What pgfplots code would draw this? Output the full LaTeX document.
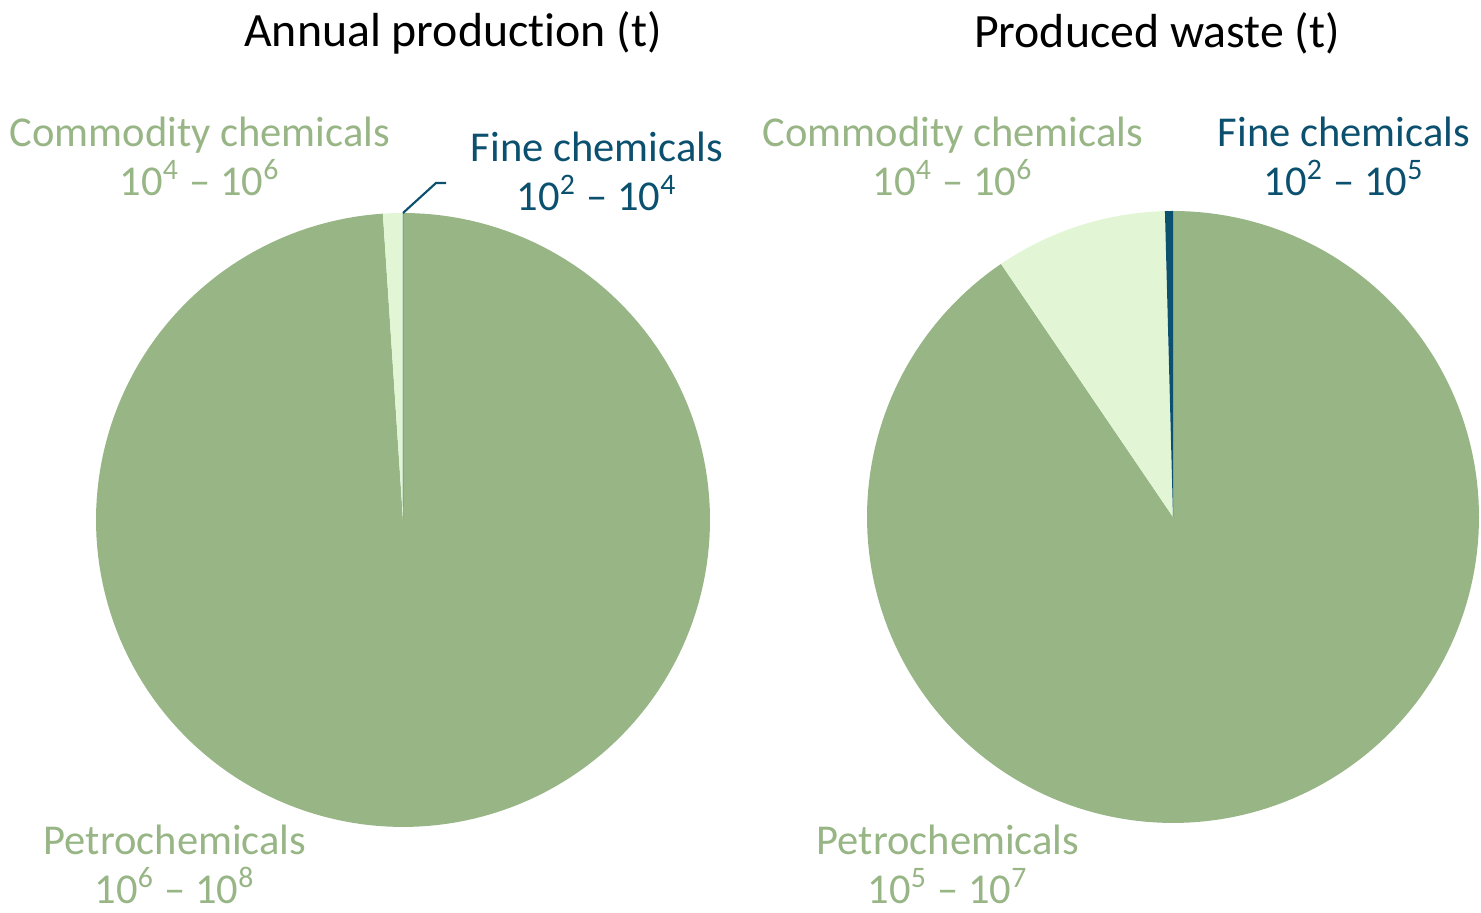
\documentclass[border=0pt]{standalone}
\usepackage{pgfplots}
\pgfplotsset{compat=1.18}
\usepackage{fontspec}
\setmainfont{Carlito}[Ligatures=NoCommon]
\definecolor{petro}{HTML}{97B585}
\definecolor{commod}{HTML}{E2F6D6}
\definecolor{fine}{HTML}{0B506F}
% shares in percent
\def\LFine{0.005}\def\LComm{1.04}\def\LPetro{98.955}
\def\RFine{0.42}\def\RComm{9.08}\def\RPetro{90.50}
\pgfmathsetmacro\La{90+3.6*\LFine}
\pgfmathsetmacro\Lb{\La+3.6*\LComm}
\pgfmathsetmacro\Ra{90+3.6*\RFine}
\pgfmathsetmacro\Rb{\Ra+3.6*\RComm}
\tikzset{lbl/.style={font=\fontsize{12.1}{13.9}\selectfont, align=center, inner sep=0pt}}
\begin{document}
\begin{tikzpicture}
\begin{axis}[
  width=14.81cm, height=9.10cm, scale only axis,
  xmin=0, xmax=1481, ymin=0, ymax=910, y dir=reverse,
  hide axis, clip=false,
]
\coordinate (bbA) at (axis cs:0,0);
\coordinate (bbB) at (axis cs:1481,913);
% left pie: centre (403,520), r=307
\addplot[fill=petro, draw=none, domain=\Lb:450, samples=200] ({403+307*cos(x)},{520-307*sin(x)}) -- (axis cs:403,520) -- cycle;
\addplot[fill=commod, draw=none, domain=\La:\Lb, samples=10] ({403+307*cos(x)},{520-307*sin(x)}) -- (axis cs:403,520) -- cycle;
\addplot[fill=fine, draw=none, domain=90:\La, samples=2] ({403+307*cos(x)},{520-307*sin(x)}) -- (axis cs:403,520) -- cycle;
% right pie: centre (1173,517), r=306
\addplot[fill=petro, draw=none, domain=\Rb:450, samples=200] ({1173+306*cos(x)},{517-306*sin(x)}) -- (axis cs:1173,517) -- cycle;
\addplot[fill=commod, draw=none, domain=\Ra:\Rb, samples=40] ({1173+306*cos(x)},{517-306*sin(x)}) -- (axis cs:1173,517) -- cycle;
\addplot[fill=fine, draw=none, domain=90:\Ra, samples=4] ({1173+306*cos(x)},{517-306*sin(x)}) -- (axis cs:1173,517) -- cycle;
% leader line
\addplot[fine, line width=0.6pt] coordinates {(403,213) (436,183) (446,183)};
% titles
\node[lbl, font=\fontsize{13.6}{15}\selectfont] at (axis cs:453,33) {Annual production (t)};
\node[lbl, font=\fontsize{13.6}{15}\selectfont] at (axis cs:1157,33) {Produced waste (t)};
% labels left
\node[lbl, text=petro] at (axis cs:200,156) {Commodity chemicals\\10\textsuperscript{4} – 10\textsuperscript{6}};
\node[lbl, text=fine] at (axis cs:597,171) {Fine chemicals\\10\textsuperscript{2} – 10\textsuperscript{4}};
\node[lbl, text=petro] at (axis cs:175,864) {Petrochemicals\\10\textsuperscript{6} – 10\textsuperscript{8}};
% labels right
\node[lbl, text=petro] at (axis cs:953,156) {Commodity chemicals\\10\textsuperscript{4} – 10\textsuperscript{6}};
\node[lbl, text=fine] at (axis cs:1344,156) {Fine chemicals\\10\textsuperscript{2} – 10\textsuperscript{5}};
\node[lbl, text=petro] at (axis cs:948,864) {Petrochemicals\\10\textsuperscript{5} – 10\textsuperscript{7}};
\end{axis}
\pgfresetboundingbox
\path (bbA) rectangle (bbB);
\end{tikzpicture}
\end{document}
